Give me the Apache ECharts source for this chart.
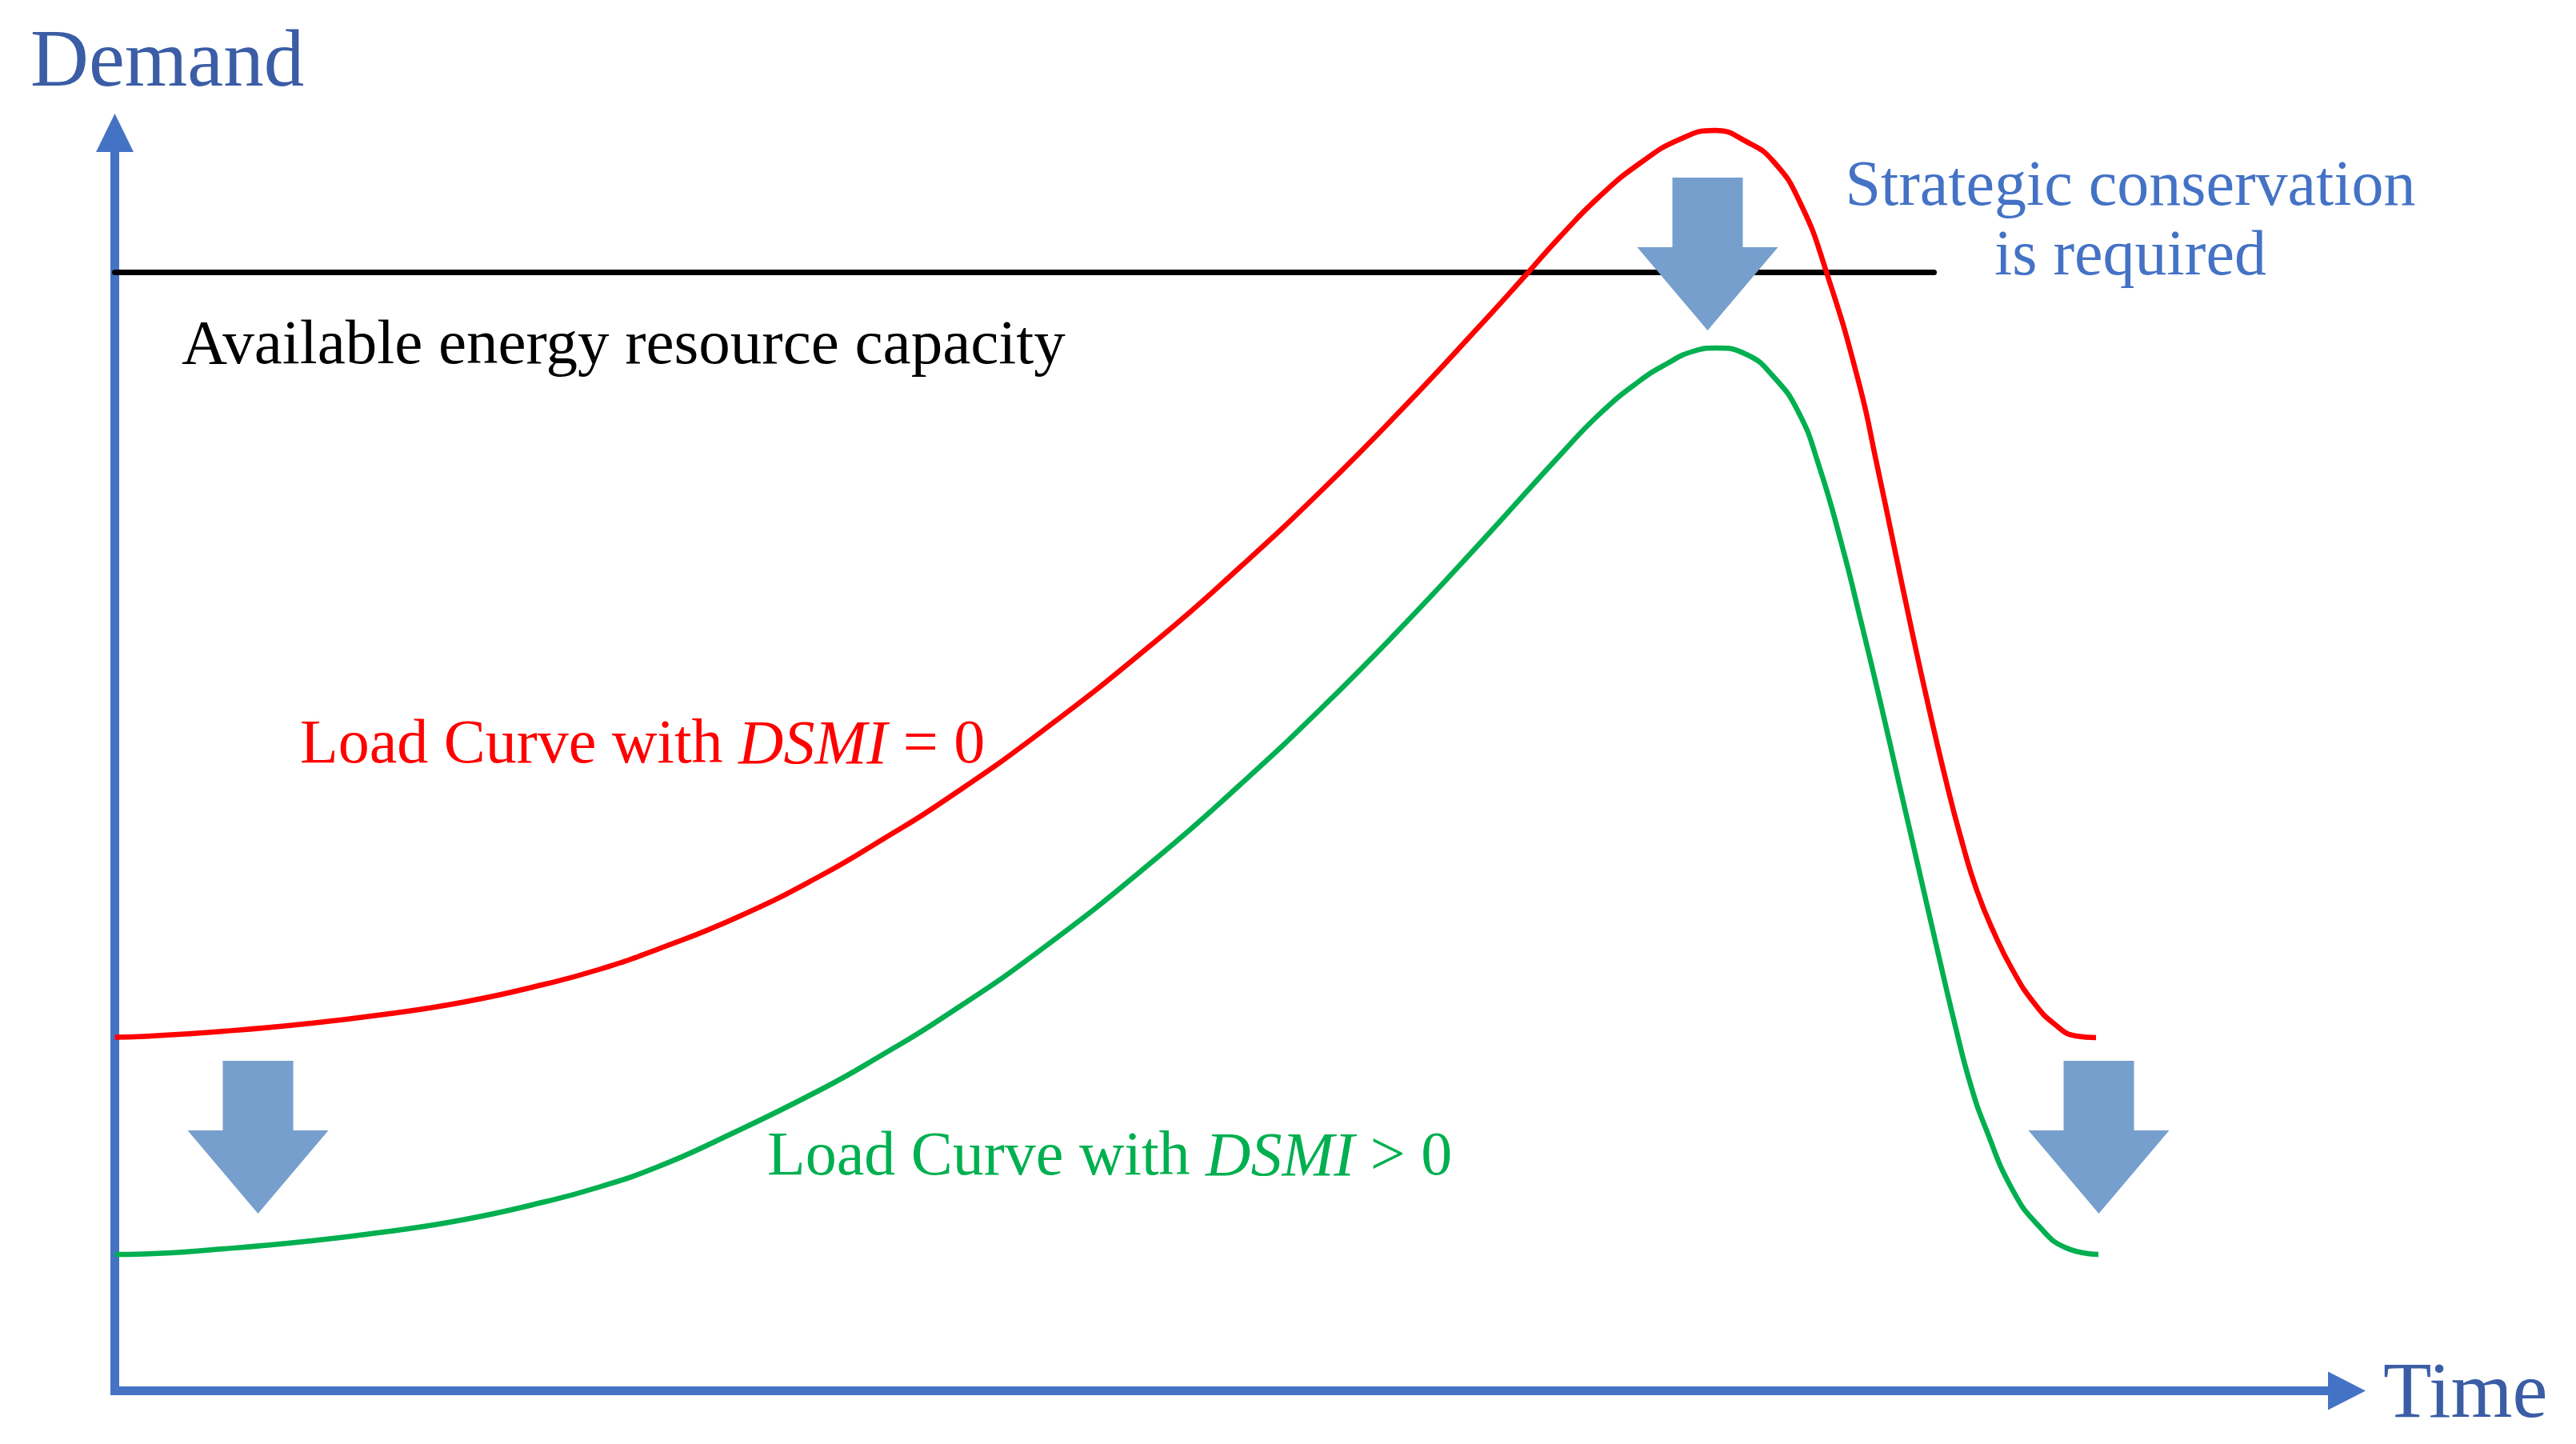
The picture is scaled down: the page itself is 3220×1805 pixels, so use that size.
<!DOCTYPE html>
<html>
<head>
<meta charset="utf-8">
<script src="https://cdn.jsdelivr.net/npm/echarts@6/dist/echarts.min.js"></script>
<style>
html,body{margin:0;padding:0;background:#fff;}
#chart{width:3220px;height:1805px;}
</style>
</head>
<body>
<div id="chart"></div>
<script>
// Axis extents (abstract units)
const timeMax = 279;
const demandMax = 157.25;

// Load curve with DSMI = 0 (red)
const redTime   = [0, 3.65, 13.65, 23.65, 33.65, 43.65, 53.65, 60.65, 67.75, 78.05, 88.35, 95.85, 103.35, 115.65, 130.65, 140.65, 150.65, 160.65, 170.65, 176.45, 180.65, 185.65, 190.65, 195.65, 199.95, 203.95, 207.35, 210.65, 213.95, 218.05, 220.25, 222.35, 224.45, 226.65, 229.0, 230.75, 232.75, 234.95, 237.25, 239.85, 242.45, 245.15, 247.65];
const redDemand = [44.2, 44.3, 44.95, 45.85, 47.05, 48.6, 50.8, 52.7, 55.15, 59.3, 64.45, 68.85, 73.55, 82.25, 94.15, 102.95, 112.35, 122.45, 133.15, 139.55, 144.25, 149.35, 153.45, 156.45, 157.55, 156.15, 153.65, 148.55, 139.85, 125.85, 115.85, 105.85, 95.85, 85.85, 75.85, 69.15, 62.55, 57.15, 52.55, 48.55, 45.85, 44.35, 44.15];

// Load curve with DSMI > 0 (green)
const greenTime   = [0, 3.65, 13.65, 23.65, 33.65, 43.65, 53.65, 60.65, 67.75, 75.65, 88.35, 95.85, 103.35, 115.65, 130.65, 140.65, 150.65, 160.65, 170.65, 180.65, 185.65, 190.35, 193.95, 197.35, 200.15, 203.95, 207.35, 210.45, 212.95, 215.85, 218.35, 220.75, 223.05, 225.35, 227.65, 230.0, 231.95, 233.85, 237.25, 240.55, 243.95, 247.95];
const greenDemand = [17.05, 17.1, 17.75, 18.65, 19.85, 21.4, 23.6, 25.5, 27.95, 31.45, 37.7, 41.95, 46.55, 55.05, 66.95, 75.75, 85.15, 95.25, 105.95, 116.95, 122.15, 126.05, 128.35, 129.95, 130.35, 129.55, 126.75, 122.35, 115.85, 105.85, 95.85, 85.85, 75.85, 65.85, 55.85, 45.85, 38.35, 32.85, 25.05, 20.55, 17.85, 17.05];

// Available energy resource capacity (black line)
const capacityTime   = [0, 227.4];
const capacityDemand = [139.8, 139.8];

// Downward shift arrows (centres)
const arrowTime   = [17.9, 199.1, 248.0];
const arrowDemand = [31.7, 142.1, 31.7];

const zip = (a, b) => a.map((v, i) => [v, b[i]]);

const serif = "'Liberation Serif', 'Times New Roman', serif";
const axisBlue = '#4472C4';

const chart = echarts.init(document.getElementById('chart'), null, {renderer: 'canvas'});

const axisCommon = {
  type: 'value',
  min: 0,
  axisTick: {show: false},
  axisLabel: {show: false},
  splitLine: {show: false}
};

const option = {
  backgroundColor: '#ffffff',
  animation: false,
  grid: {left: 143.5, right: 286.5, top: 166, bottom: 66.5, containLabel: false},
  xAxis: Object.assign({}, axisCommon, {
    max: timeMax,
    axisLine: {show: true, symbol: ['none', 'triangle'], symbolSize: [48, 47],
      lineStyle: {color: axisBlue, width: 11, cap: 'square'}}
  }),
  yAxis: Object.assign({}, axisCommon, {
    max: demandMax,
    axisLine: {show: true, symbol: ['none', 'triangle'], symbolSize: [47, 48],
      lineStyle: {color: axisBlue, width: 11, cap: 'square'}}
  }),
  series: [
    {
      name: 'Available energy resource capacity',
      type: 'line', data: zip(capacityTime, capacityDemand),
      showSymbol: false, clip: false, z: 2,
      lineStyle: {color: '#000000', width: 7, cap: 'round'}
    },
    {
      name: 'Load Curve with DSMI = 0',
      type: 'line', data: zip(redTime, redDemand),
      showSymbol: false, clip: false, smooth: 0.5, z: 3,
      lineStyle: {color: '#FF0000', width: 6.5}
    },
    {
      name: 'Load Curve with DSMI > 0',
      type: 'line', data: zip(greenTime, greenDemand),
      showSymbol: false, clip: false, smooth: 0.5, z: 3,
      lineStyle: {color: '#00B050', width: 6.5}
    },
    {
      name: 'Shift',
      type: 'scatter', data: zip(arrowTime, arrowDemand),
      clip: false, z: 4,
      symbol: 'path://M44,0 L132,0 L132,87 L176,87 L88,191 L0,87 L44,87 Z',
      symbolSize: [176, 191],
      itemStyle: {color: '#769FCD', opacity: 1}
    }
  ],
  graphic: [
    {type: 'text', x: 38, y: 80, style: {text: 'Demand', font: '101px ' + serif, fill: '#3B5DA6', align: 'left', verticalAlign: 'middle'}},
    {type: 'text', x: 2979, y: 1745, style: {text: 'Time', font: '99px ' + serif, fill: '#3B5DA6', align: 'left', verticalAlign: 'middle'}},
    {type: 'text', x: 227, y: 433, style: {text: 'Available energy resource capacity', font: '79px ' + serif, fill: '#000000', align: 'left', verticalAlign: 'middle'}},
    {type: 'text', x: 2663, y: 235, style: {text: 'Strategic conservation', font: '80px ' + serif, fill: '#4472C4', align: 'center', verticalAlign: 'middle'}},
    {type: 'text', x: 2663, y: 322, style: {text: 'is required', font: '80px ' + serif, fill: '#4472C4', align: 'center', verticalAlign: 'middle'}},
    {type: 'text', x: 375, y: 933, style: {
      text: '{n|Load Curve with }{i|DSMI}{n| = 0}', align: 'left', verticalAlign: 'middle',
      rich: {
        n: {font: '78px ' + serif, fill: '#FF0000'},
        i: {font: 'italic 78px ' + serif, fill: '#FF0000'}
      }}},
    {type: 'text', x: 959, y: 1448, style: {
      text: '{n|Load Curve with }{i|DSMI}{n| > 0}', align: 'left', verticalAlign: 'middle',
      rich: {
        n: {font: '78px ' + serif, fill: '#00B050'},
        i: {font: 'italic 78px ' + serif, fill: '#00B050'}
      }}}
  ]
};

chart.setOption(option);
</script>
</body>
</html>
